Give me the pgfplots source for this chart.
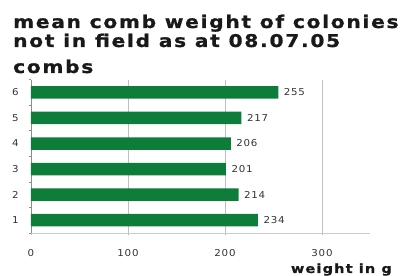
\documentclass[border=0pt]{standalone}
\usepackage{fontspec}
\setmainfont{DejaVu Sans}
\newfontfamily\titlefont{DejaVu Sans}[LetterSpace=10, FakeStretch=1.15, FakeBold=1]
\newfontfamily\smallfont{DejaVu Sans}[LetterSpace=8, FakeStretch=1.08]
\usepackage{pgfplots}
\pgfplotsset{compat=1.18}
\definecolor{bargreen}{HTML}{0E7D3A}
\definecolor{ticktext}{HTML}{333333}
\begin{document}
\begin{tikzpicture}[x=1pt,y=1pt]
\begin{axis}[
  at={(31pt,43pt)}, anchor=south west,
  scale only axis,
  width=339.5pt, height=153.4pt,
  xmin=0, xmax=350, ymin=0.5, ymax=6.5,
  xbar, bar width=12.5pt,
  axis x line*=bottom, axis y line*=left,
  x axis line style={draw=black!20, line width=0.8pt, -},
  y axis line style={draw=black!45, line width=0.6pt, -},
  xtick={0,100,200,300},
  xmajorgrids, grid style={draw=black!25, line width=0.6pt},
  tick align=outside,
  x tick style={draw=black!30, line width=0.6pt},
  major tick length=2.5pt,
  ytick={1,2,3,4,5,6},
  yticklabels={1,2,3,4,5,6},
  y tick style={draw=none},
  minor ytick={0.5,1.5,2.5,3.5,4.5,5.5,6.5},
  minor y tick style={draw=black!45, line width=0.5pt},
  minor tick length=2pt,
  /pgf/number format/assume math mode=true,
  tick label style={font=\smallfont\fontsize{9.5}{10}\selectfont, text=ticktext},
  xticklabel style={anchor=center, yshift=-18pt},
  yticklabel style={anchor=center, xshift=-13pt},
  nodes near coords,
  nodes near coords style={font=\smallfont\fontsize{9.5}{10}\selectfont, text=ticktext, anchor=west, xshift=2pt},
  clip=false,
]
\addplot[fill=bargreen, draw=none] coordinates {
  (234,1) (214,2) (201,3) (206,4) (217,5) (255,6)
};
\end{axis}
\node[anchor=base west, inner sep=0pt, text=black!90, font=\titlefont\bfseries\fontsize{17.5}{20}\selectfont] at (13pt,248pt) {mean comb weight of colonies};
\node[anchor=base west, inner sep=0pt, text=black!90, font=\titlefont\bfseries\fontsize{17.5}{20}\selectfont] at (13pt,229pt) {not in field as at 08.07.05};
\node[anchor=base west, inner sep=0pt, text=black!90, font=\titlefont\bfseries\fontsize{17.5}{20}\selectfont] at (13pt,203pt) {combs};
\node[anchor=base east, inner sep=0pt, text=black!90, font=\titlefont\bfseries\fontsize{12.5}{15}\selectfont] at (392pt,3pt) {weight in g};
\pgfresetboundingbox
\path[use as bounding box] (0,0) rectangle (400pt,276pt);
\end{tikzpicture}
\end{document}
